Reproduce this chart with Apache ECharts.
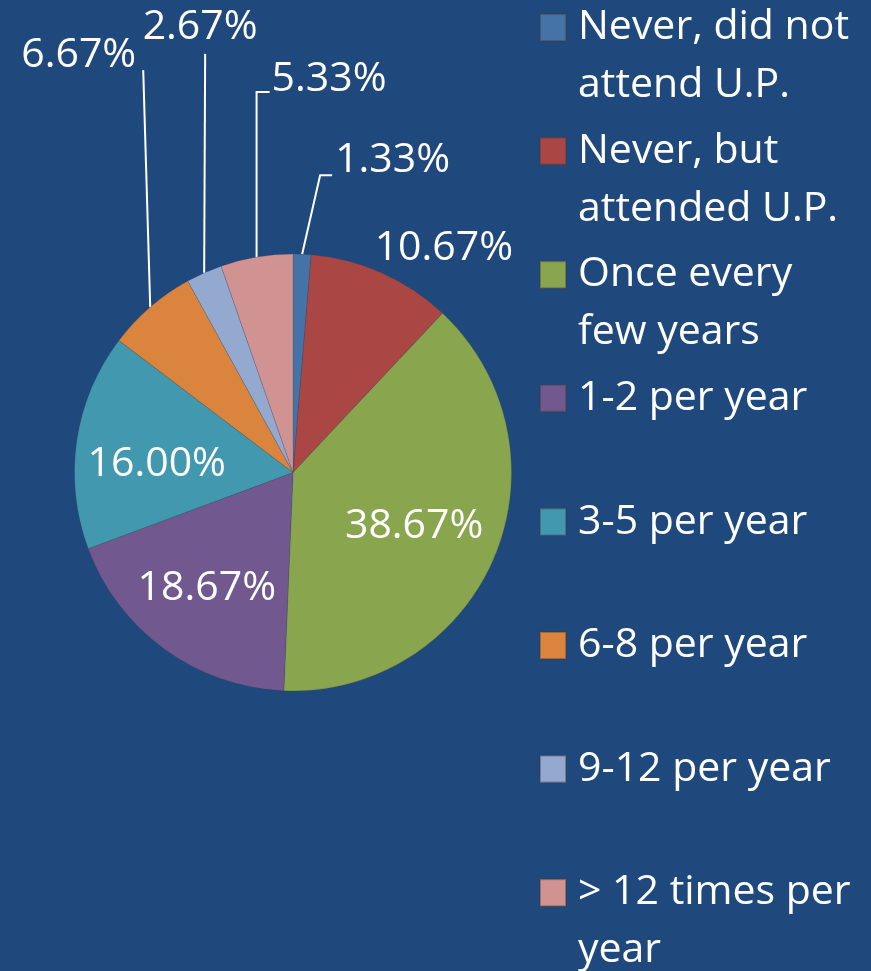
<!DOCTYPE html>
<html>
<head>
<meta charset="utf-8">
<script src="https://cdn.jsdelivr.net/npm/echarts@6/dist/echarts.min.js"></script>
<style>
html, body { margin: 0; padding: 0; background: #1F497D; }
#chart { width: 871px; height: 971px; }
</style>
</head>
<body>
<div id="chart"></div>
<script>
const categories = [
    'Never, did not\nattend U.P.',
    'Never, but\nattended U.P.',
    'Once every\nfew years',
    '1-2 per year',
    '3-5 per year',
    '6-8 per year',
    '9-12 per year',
    '> 12 times per\nyear'
];
const percents = [1.33, 10.67, 38.67, 18.67, 16.00, 6.67, 2.67, 5.33];
const colors = ['#4572A7', '#AA4643', '#89A54E', '#71588F', '#4198AF', '#DB843D', '#93A9CF', '#D19392'];

const font = 'Open Sans';
const cx = 293, cy = 472.5, r = 218.5;
const innerIdx = [2, 3, 4];
// small nudges so the inside labels sit where PowerPoint put them
const innerNudge = {2: [-3, 2], 3: [-7, 7], 4: [-3, 11]};
// outside labels: offsets from the point where the leader line leaves the slice
const outer = {
    0: {line: [[18, -79], [30, -79]], text: [33, -94], align: 'left'},
    1: {line: null, text: [62, -25], align: 'center'},
    5: {line: [[-7, -237], [-7, -237]], text: [-14, -252], align: 'right'},
    6: {line: [[1, -219], [1, -219]], text: [-4, -246], align: 'center'},
    7: {line: [[0, -165], [13, -165]], text: [15, -178], align: 'left'}
};

function pieLabelLayout(params) {
    let i = params.dataIndex;
    if (innerIdx.indexOf(i) >= 0) {
        // push the inside labels a bit further out from the centre
        let lx = params.labelRect.x + params.labelRect.width / 2;
        let ly = params.labelRect.y + params.labelRect.height / 2;
        let n = innerNudge[i];
        return {
            x: cx + (lx - cx) * 1.2 + n[0],
            y: cy + (ly - cy) * 1.2 + n[1],
            align: 'center',
            verticalAlign: 'middle'
        };
    }
    let o = outer[i];
    let s = params.labelLinePoints[0];
    let pts = o.line
        ? [s, [s[0] + o.line[0][0], s[1] + o.line[0][1]], [s[0] + o.line[1][0], s[1] + o.line[1][1]]]
        : [s, s, s];
    return {
        x: s[0] + o.text[0],
        y: s[1] + o.text[1],
        align: o.align,
        verticalAlign: 'middle',
        labelLinePoints: pts
    };
}

const lineH = 58;
const legendStep = 123.6;
const firstIconMid = 27.5;
const legends = categories.map((name, i) => {
    let twoLines = name.indexOf('\n') >= 0;
    return {
        data: [name],
        // a blank first line keeps the square level with the first line of text
        formatter: n => (n.indexOf('\n') >= 0 ? '\u00a0\n' + n : n),
        orient: 'vertical',
        left: 539,
        top: firstIconMid + i * legendStep - (twoLines ? lineH * 1.5 : lineH / 2),
        padding: 0,
        icon: 'rect',
        itemWidth: 26,
        itemHeight: 27,
        selectedMode: false,
        textStyle: {
            color: '#ffffff',
            fontFamily: font,
            fontSize: 41,
            lineHeight: lineH,
            padding: [0, 0, 0, 7]
        }
    };
});

let myChart = echarts.init(document.getElementById('chart'));
myChart.setOption({
    backgroundColor: '#1F497D',
    animation: false,
    color: colors,
    legend: legends,
    series: [{
        type: 'pie',
        center: [cx, cy],
        radius: r,
        startAngle: 90,
        clockwise: true,
        avoidLabelOverlap: false,
        data: categories.map((name, i) => ({
            name: name,
            value: percents[i],
            label: {position: innerIdx.indexOf(i) >= 0 ? 'inside' : 'outside'},
            labelLine: {show: innerIdx.indexOf(i) < 0 && i !== 1}
        })),
        label: {
            color: '#ffffff',
            fontFamily: font,
            fontSize: 41,
            formatter: p => p.value.toFixed(2) + '%'
        },
        labelLine: {
            show: true,
            length: 20,
            length2: 10,
            lineStyle: {color: '#ffffff', width: 2}
        },
        labelLayout: pieLabelLayout,
        itemStyle: {borderColor: 'rgba(60,60,60,0.4)', borderWidth: 0.5}
    }]
});
</script>
</body>
</html>
